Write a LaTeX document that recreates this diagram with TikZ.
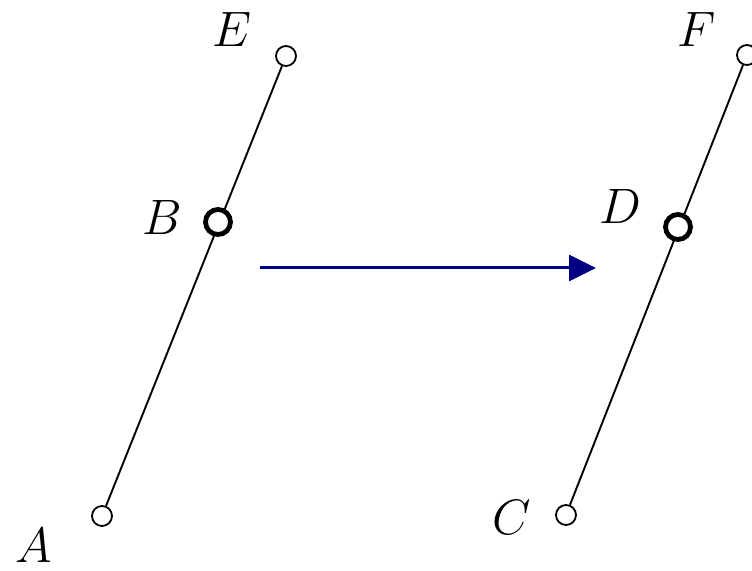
\documentclass[tikz,border=0pt]{standalone}
\usepackage{amsmath}
\usetikzlibrary{arrows.meta, positioning}
\definecolor{navy}{RGB}{0,0,128}
\tikzset{
  pin/.style={circle, draw, line width=0.9pt, fill=white, inner sep=0pt, minimum size=10pt},
  pinbold/.style={pin, line width=2.4pt, minimum size=12.5pt},
  bar/.style={line width=0.95pt},
  lbl/.style={font=\fontsize{29}{35}\selectfont, inner sep=0pt},
  move/.style={-{Triangle[length=13.5pt, width=13pt]}, line width=1.5pt, navy},
}
\begin{document}
\begin{tikzpicture}[x=0.5pt, y=0.5pt]
  \useasboundingbox (0,0) rectangle (752,571);
  % left bar
  \node[pin]     (a) at (102,55)  {};
  \node[pin]     (e) at (286,515) {};
  \draw[bar] (a) -- (e);
  \node[pinbold] (b) at (218,349) {};
  % right bar
  \node[pin]     (c) at (566,56)  {};
  \node[pin]     (f) at (747,516) {};
  \draw[bar] (c) -- (f);
  \node[pinbold] (d) at (678,344) {};

  \node[lbl] (la) at (34,25)   {$A$};
  \node[lbl] (le) at (232,541) {$E$};
  \node[lbl] (lb) at (162,353) {$B$};
  \node[lbl] (lc) at (512,53)  {$C$};
  \node[lbl] (lf) at (697,541) {$F$};
  \node[lbl] (ld) at (620,364) {$D$};

  \coordinate (s) at (260,303);
  \coordinate (t) at (596,303);
  \draw[move] (s) -- (t);
\end{tikzpicture}
\end{document}
